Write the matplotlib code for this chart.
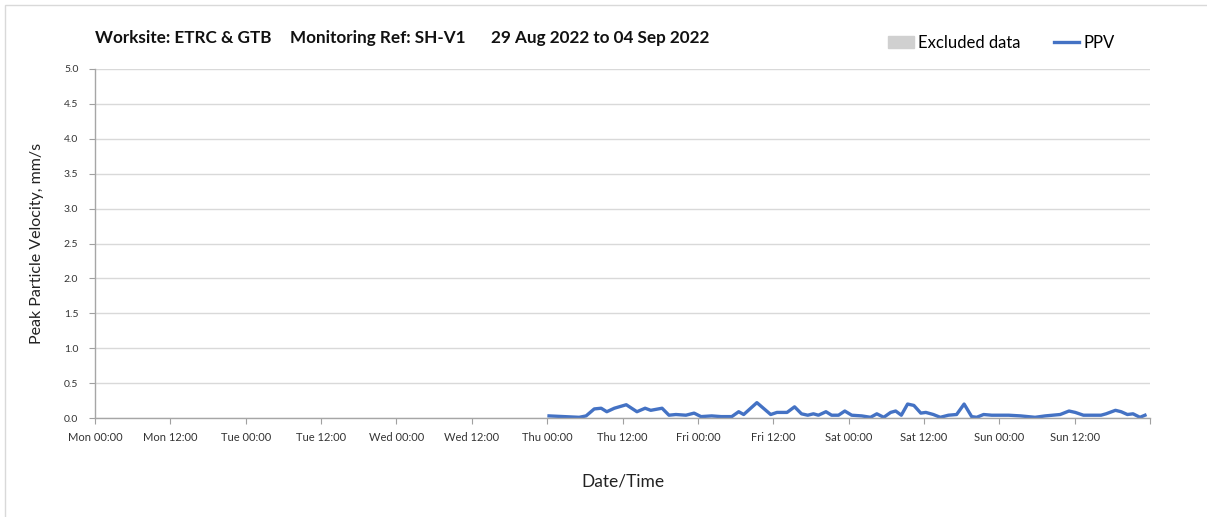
import numpy as np
import pandas as pd
import matplotlib
matplotlib.use("Agg")
import matplotlib.pyplot as plt
import matplotlib.dates as mdates
import matplotlib.patches as mpatches
from matplotlib.lines import Line2D

plt.rcParams['font.family'] = ['Lato', 'DejaVu Sans']

# PPV readings, hours after Thu 01 Sep 2022 00:00
hours = [0.3, 5.1, 6.2, 7.5, 8.6, 9.5, 10.7, 12.6, 14.3, 15.6, 16.5, 18.3, 19.4, 20.5,
         22.1, 23.4, 24.5, 26.2, 27.7, 29.4, 30.5, 31.3, 33.4, 35.6, 36.6, 38.2, 39.4,
         40.5, 41.5, 42.4, 43.2, 44.4, 45.3, 46.4, 47.4, 48.5, 50.1, 51.5, 52.5, 53.6,
         54.7, 55.5, 56.4, 57.4, 58.4, 59.5, 60.3, 61.5, 62.6, 63.9, 65.2, 66.4, 67.6,
         68.4, 69.5, 70.8, 73.5, 75.4, 77.7, 79.3, 81.7, 83.1, 84.1, 85.4, 88.2, 89.0,
         90.5, 91.4, 92.4, 93.3, 94.4, 95.2]
ppv = [0.03, 0.01, 0.03, 0.13, 0.14, 0.09, 0.14, 0.19, 0.09, 0.14, 0.11, 0.14, 0.04, 0.05,
       0.04, 0.07, 0.02, 0.03, 0.02, 0.02, 0.09, 0.05, 0.22, 0.05, 0.08, 0.08, 0.16,
       0.06, 0.04, 0.06, 0.04, 0.09, 0.04, 0.04, 0.10, 0.04, 0.03, 0.01, 0.06, 0.01,
       0.08, 0.10, 0.04, 0.20, 0.18, 0.07, 0.08, 0.05, 0.01, 0.04, 0.05, 0.20, 0.02,
       0.01, 0.05, 0.04, 0.04, 0.03, 0.01, 0.03, 0.05, 0.10, 0.08, 0.04, 0.04, 0.06,
       0.11, 0.09, 0.05, 0.06, 0.01, 0.04]

start = pd.Timestamp("2022-08-29 00:00")
end = pd.Timestamp("2022-09-05 00:00")
t0 = pd.Timestamp("2022-09-01 00:00")
times = [t0 + pd.Timedelta(hours=h) for h in hours]

title_parts = ["Worksite: ETRC & GTB", "Monitoring Ref: SH-V1", "29 Aug 2022 to 04 Sep 2022"]
title_x = [95, 290, 491]


def tick_label(x, pos):
    d = mdates.num2date(x).replace(tzinfo=None)
    if d >= end.to_pydatetime():
        return ""
    return d.strftime('%a %H:%M')


fig = plt.figure(figsize=(12.07, 5.17), dpi=100)
ax = fig.add_axes([95/1207, 1-418/517, (1150-95)/1207, (418-69)/517])

ax.plot(times, ppv, color='#4472C4', linewidth=2.4, solid_joinstyle='round')

ax.set_xlim(start, end)
ax.set_ylim(0, 5)
ax.set_yticks(np.arange(0, 5.01, 0.5))
ax.yaxis.set_major_formatter(matplotlib.ticker.FormatStrFormatter('%.1f'))

ax.xaxis.set_major_locator(mdates.HourLocator(byhour=[0, 12]))
ax.xaxis.set_major_formatter(matplotlib.ticker.FuncFormatter(tick_label))
ax.xaxis.set_minor_locator(mdates.DayLocator())

ax.grid(False)
ax.grid(which='minor', axis='x', color='#d9d9d9', linewidth=1)
ax.grid(which='major', axis='y', color='#d9d9d9', linewidth=1)
ax.set_axisbelow(True)

ax.tick_params(axis='x', which='major', length=4, color='#a0a0a0', labelsize=8,
               labelcolor='#333333', pad=6)
ax.tick_params(axis='x', which='minor', length=0)
ax.tick_params(axis='y', length=4, color='#a0a0a0', labelsize=7.5, labelcolor='#333333', pad=8)

for s in ax.spines.values():
    s.set_color('#a6a6a6')
    s.set_linewidth(1)
ax.spines['top'].set_visible(False)
ax.spines['right'].set_visible(False)

ax.set_xlabel('Date/Time', fontsize=12.5, color='#222222', labelpad=22)
ax.set_ylabel('Peak Particle Velocity, mm/s', fontsize=11.5, color='#222222', labelpad=14)

for txt, xp in zip(title_parts, title_x):
    fig.text(xp/1207, 1-38/517, txt, fontsize=12.3, fontweight='bold', color='#111111',
             ha='left', va='center')

handles = [mpatches.Patch(color='#d0d0d0', label='Excluded data'),
           Line2D([0], [0], color='#4472C4', linewidth=2.4, label='PPV')]
fig.legend(handles=handles, loc='center left', bbox_to_anchor=(881/1207, 1-43/517),
           ncol=2, frameon=False, fontsize=12, handlelength=1.55, handletextpad=0.25,
           columnspacing=2.0, borderaxespad=0)

fig.add_artist(mpatches.Rectangle((5/1207, -0.1), 1.2, 1-5/517+0.1, transform=fig.transFigure,
                                  fill=False, edgecolor='#d9d9d9', linewidth=1))

fig.savefig('out.png', dpi=100)
